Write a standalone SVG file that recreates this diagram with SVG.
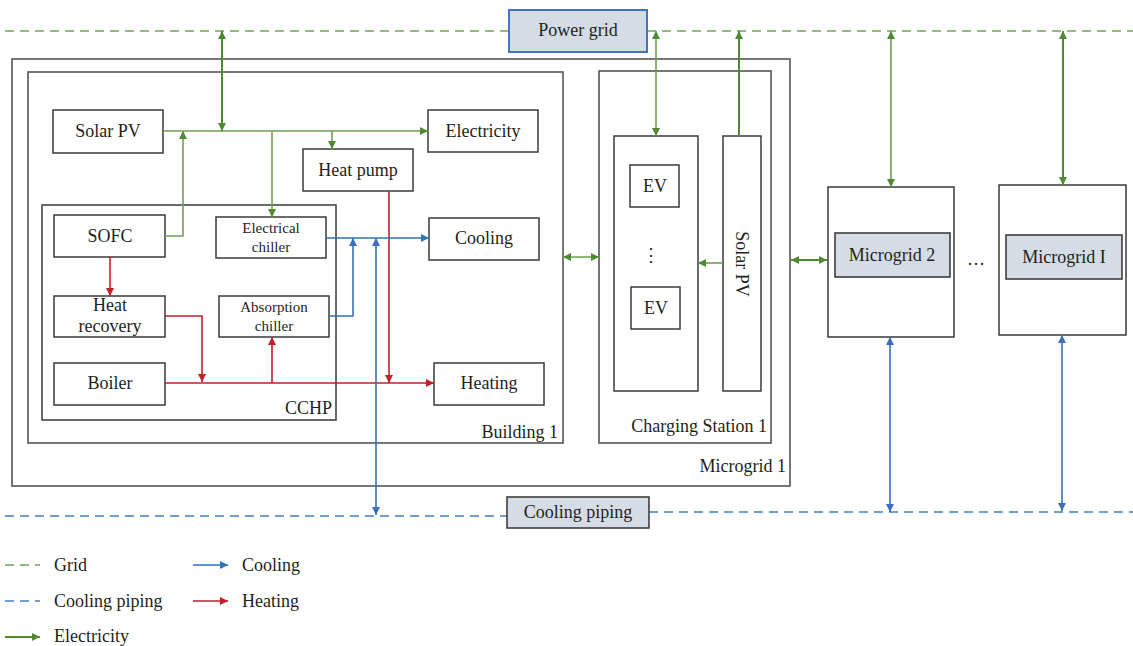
<svg xmlns="http://www.w3.org/2000/svg" width="1133" height="646" viewBox="0 0 1133 646">
<defs>
<marker id="aG" viewBox="0 0 10 10" refX="10" refY="5" markerWidth="9" markerHeight="8" markerUnits="userSpaceOnUse" orient="auto-start-reverse"><path d="M0,0 L10,5 L0,10 z" fill="#4f8a33"/></marker>
<marker id="aR" viewBox="0 0 10 10" refX="10" refY="5" markerWidth="9" markerHeight="8" markerUnits="userSpaceOnUse" orient="auto-start-reverse"><path d="M0,0 L10,5 L0,10 z" fill="#c41e2a"/></marker>
<marker id="aB" viewBox="0 0 10 10" refX="10" refY="5" markerWidth="9" markerHeight="8" markerUnits="userSpaceOnUse" orient="auto-start-reverse"><path d="M0,0 L10,5 L0,10 z" fill="#3a6fbf"/></marker>
<marker id="aC" viewBox="0 0 10 10" refX="10" refY="5" markerWidth="9" markerHeight="8" markerUnits="userSpaceOnUse" orient="auto-start-reverse"><path d="M0,0 L10,5 L0,10 z" fill="#2b74b8"/></marker>
</defs>
<style>
text{font-family:"Liberation Serif","DejaVu Serif",serif;fill:#231f20;font-size:18px}
.c{text-anchor:middle;dominant-baseline:central}
.s{font-size:15px}
.r{text-anchor:end}
.box{fill:#fff;stroke:#3a3a3a;stroke-width:1.5}
.frame{fill:none;stroke:#555;stroke-width:1.6}
.hl{fill:#d6dce5;stroke:#333;stroke-width:1.5}
.g{fill:none;stroke:#4f8a33;stroke-width:2}
.gl{fill:none;stroke:#6fa050;stroke-width:1.6}
.rd{fill:none;stroke:#c41e2a;stroke-width:1.6}
.bl{fill:none;stroke:#3a6fbf;stroke-width:1.6}
.cb{fill:none;stroke:#2b74b8;stroke-width:1.6}
.dg{fill:none;stroke:#74a35a;stroke-width:1.5;stroke-dasharray:9 6}
.db{fill:none;stroke:#3f7fc4;stroke-width:1.5;stroke-dasharray:9 6}
</style>
<rect width="1133" height="646" fill="#fff"/>

<g id="backbones">
<path class="dg" d="M5,31 H509 M647,31 H1133"/>
<path class="db" d="M5,516 H507 M649,512 H1133"/>
</g>

<g id="microgrid1"><rect class="frame" x="12" y="59" width="778" height="427"/><text class="r" x="786" y="472">Microgrid 1</text></g>
<g id="building1"><rect class="frame" x="28" y="72" width="535" height="371"/><text class="r" x="558" y="438">Building 1</text></g>
<g id="cchp"><rect class="box" x="42" y="205" width="294" height="215"/><text class="r" x="332" y="414">CCHP</text></g>
<g id="charging"><rect class="frame" x="599" y="71" width="172" height="372"/><text class="r" x="767" y="432">Charging Station 1</text></g>

<g id="powergrid"><rect x="509" y="10" width="138" height="42" fill="#d6dce5" stroke="#4472c4" stroke-width="2"/><text class="c" x="578" y="30">Power grid</text></g>
<g id="coolingpiping"><rect class="hl" x="507" y="497" width="142" height="31"/><text class="c" x="578" y="512">Cooling piping</text></g>

<g id="solarpv"><rect class="box" x="53" y="110" width="110" height="43"/><text class="c" x="108" y="131">Solar PV</text></g>
<g id="electricity"><rect class="box" x="428" y="110" width="110" height="42"/><text class="c" x="483" y="131">Electricity</text></g>
<g id="heatpump"><rect class="box" x="303" y="149" width="110" height="42"/><text class="c" x="358" y="170">Heat pump</text></g>
<g id="sofc"><rect class="box" x="54" y="215" width="111" height="42"/><text class="c" x="110" y="236">SOFC</text></g>
<g id="elchiller"><rect class="box" x="216" y="217" width="110" height="41"/><text class="c s" x="271" y="228">Electrical</text><text class="c s" x="271" y="247">chiller</text></g>
<g id="heatrec"><rect class="box" x="54" y="296" width="111" height="41"/><text class="c" x="110" y="305">Heat</text><text class="c" x="110" y="326">recovery</text></g>
<g id="abschiller"><rect class="box" x="219" y="296" width="110" height="41"/><text class="c s" x="274" y="307">Absorption</text><text class="c s" x="274" y="326">chiller</text></g>
<g id="boiler"><rect class="box" x="54" y="363" width="111" height="42"/><text class="c" x="110" y="383">Boiler</text></g>
<g id="cooling"><rect class="box" x="429" y="218" width="110" height="42"/><text class="c" x="484" y="238">Cooling</text></g>
<g id="heating"><rect class="box" x="434" y="363" width="110" height="42"/><text class="c" x="489" y="383">Heating</text></g>

<g id="evcol"><rect class="box" x="614" y="136" width="84" height="255"/>
<rect class="box" x="630" y="165" width="49" height="42"/><text class="c" x="655" y="186">EV</text>
<text class="c" x="651" y="255">⋮</text>
<rect class="box" x="631" y="287" width="49" height="42"/><text class="c" x="656" y="308">EV</text></g>
<g id="solarpv2"><rect class="box" x="723" y="136" width="38" height="255"/><text class="c" transform="translate(742,264) rotate(90)">Solar PV</text></g>

<g id="microgrid2"><rect class="box" x="828" y="187" width="126" height="150"/><rect class="hl" x="835" y="233" width="115" height="44"/><text class="c" x="892" y="255">Microgrid 2</text></g>
<text class="c" x="976" y="259">…</text>
<g id="microgridI"><rect class="box" x="999" y="185" width="127" height="150"/><rect class="hl" x="1006" y="235" width="116" height="44"/><text class="c" x="1064" y="257">Microgrid I</text></g>

<g id="connectors">
<path class="g" d="M222,31 V131" marker-start="url(#aG)" marker-end="url(#aG)"/>
<path class="gl" d="M163,131 H428" marker-end="url(#aG)"/>
<path class="gl" d="M272,131 V217" marker-end="url(#aG)"/>
<path class="gl" d="M332,131 V149" marker-end="url(#aG)"/>
<path class="gl" d="M165,236 H183 V131" marker-end="url(#aG)"/>
<path class="gl" d="M656,31 V136" marker-start="url(#aG)" marker-end="url(#aG)"/>
<path class="g" d="M739,136 V31" marker-end="url(#aG)"/>
<path class="gl" d="M723,263 H698" marker-end="url(#aG)"/>
<path class="gl" d="M563,257 H599" marker-start="url(#aG)" marker-end="url(#aG)"/>
<path class="g" d="M791,260 H827" marker-start="url(#aG)" marker-end="url(#aG)"/>
<path class="gl" d="M891,31 V187" marker-start="url(#aG)" marker-end="url(#aG)"/>
<path class="g" d="M1063,31 V185" marker-start="url(#aG)" marker-end="url(#aG)"/>

<path class="rd" d="M110,257 V296" marker-end="url(#aR)"/>
<path class="rd" d="M165,316 H202 V382" marker-end="url(#aR)"/>
<path class="rd" d="M165,383 H434" marker-end="url(#aR)"/>
<path class="rd" d="M272,383 V337" marker-end="url(#aR)"/>
<path class="rd" d="M389,191 V383" marker-end="url(#aR)"/>

<path class="cb" d="M326,238 H429" marker-end="url(#aC)"/>
<path class="bl" d="M329,316 H353 V238" marker-end="url(#aB)"/>
<path class="bl" d="M376,238 V515" marker-start="url(#aB)" marker-end="url(#aB)"/>
<path class="bl" d="M890,337 V512" marker-start="url(#aB)" marker-end="url(#aB)"/>
<path class="bl" d="M1062,335 V511" marker-start="url(#aB)" marker-end="url(#aB)"/>
</g>

<g id="legend">
<path class="dg" d="M5,565 H40" stroke-dasharray="7 6"/><text x="54" y="571">Grid</text>
<path class="db" d="M5,601 H40" stroke-dasharray="7 6"/><text x="54" y="607">Cooling piping</text>
<path class="g" d="M5,637 H40" marker-end="url(#aG)"/><text x="54" y="642">Electricity</text>
<path class="cb" d="M193,565 H228" stroke-width="2" marker-end="url(#aC)"/><text x="242" y="571">Cooling</text>
<path class="rd" d="M193,601 H228" stroke-width="2" marker-end="url(#aR)"/><text x="242" y="607">Heating</text>
</g>
</svg>
